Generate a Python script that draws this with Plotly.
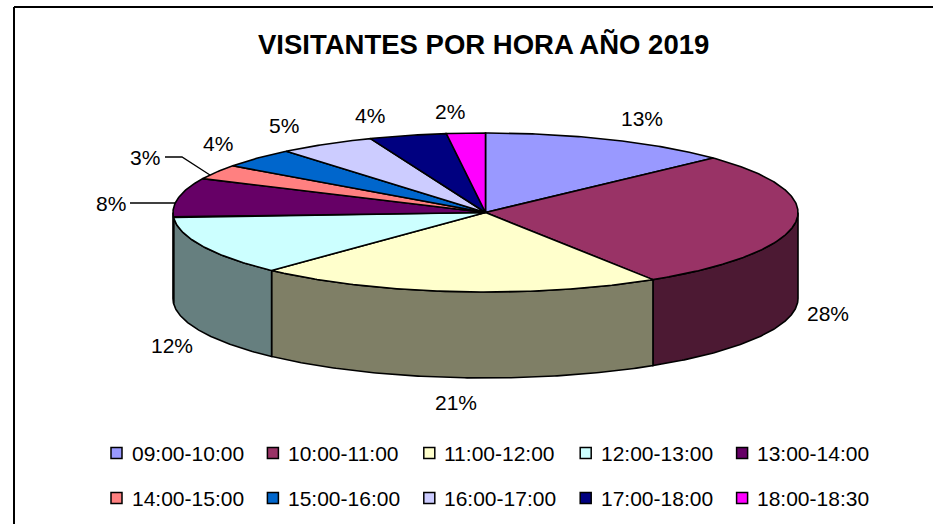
import numpy as np
import plotly.graph_objects as go

# ---------------- data ----------------
TITLE = "VISITANTES POR HORA AÑO 2019"
CATEGORIES = ["09:00-10:00", "10:00-11:00", "11:00-12:00", "12:00-13:00", "13:00-14:00",
              "14:00-15:00", "15:00-16:00", "16:00-17:00", "17:00-18:00", "18:00-18:30"]
PERCENTS = [13, 28, 21, 12, 8, 3, 4, 5, 4, 2]
COLORS = ["#9999FF", "#993366", "#FFFFCC", "#CCFFFF", "#660066",
          "#FF8080", "#0066CC", "#CCCCFF", "#000080", "#FF00FF"]

# ---------------- layout constants ----------------
W, H = 933, 524
CX, CY, RX, RY, DEPTH = 485.5, 212.5, 312.5, 79.5, 86
FONT = "Liberation Sans, Arial, sans-serif"
LABEL_XY = [(642, 118), (828, 313), (456, 402), (172, 345), (111, 203),
            (145, 157), (218, 143), (284, 125), (370, 115), (450, 111)]
LEADERS = {4: [(130, 203)], 5: [(165, 157), (182, 157)]}
LEG_X0, LEG_DX = 116.5, 156.4
LEG_Y = [453, 498]


def darken(c):
    c = c.lstrip("#")
    r, g, b = (int(c[i:i + 2], 16) for i in (0, 2, 4))
    return "#%02X%02X%02X" % (r // 2, g // 2, b // 2)


def ell(t, dy=0.0):
    r = np.radians(t)
    return CX + RX * np.sin(r), CY - RY * np.cos(r) + dy


total = float(sum(PERCENTS))
ends = np.cumsum(PERCENTS) / total * 360.0
starts = np.concatenate([[0.0], ends[:-1]])

fig = go.Figure()

# side walls (front half only)
for i, (a0, a1) in enumerate(zip(starts, ends)):
    lo, hi = max(a0, 90.0), min(a1, 270.0)
    if hi <= lo:
        continue
    t = np.linspace(lo, hi, max(3, int((hi - lo) * 2)))
    xt, yt = ell(t)
    xb, yb = ell(t[::-1], DEPTH)
    xs = np.concatenate([xt, xb, xt[:1]])
    ys = np.concatenate([yt, yb, yt[:1]])
    fig.add_trace(go.Scatter(x=xs, y=ys, mode="lines", fill="toself",
                             fillcolor=darken(COLORS[i]),
                             line=dict(color="black", width=1.6),
                             hoverinfo="skip", showlegend=False))

# top faces
for i, (a0, a1) in enumerate(zip(starts, ends)):
    t = np.linspace(a0, a1, max(3, int((a1 - a0) * 2)))
    xa, ya = ell(t)
    xs = np.concatenate([[CX], xa, [CX]])
    ys = np.concatenate([[CY], ya, [CY]])
    fig.add_trace(go.Scatter(x=xs, y=ys, mode="lines", fill="toself",
                             fillcolor=COLORS[i],
                             line=dict(color="black", width=1.6),
                             hoverinfo="skip", showlegend=False))

# leader lines: end on the ellipse edge
for i, pts in LEADERS.items():
    ly = pts[-1][1] if i == 4 else LABEL_XY[i][1] + 18
    c = np.clip((CY - ly) / RY, -1, 1)
    th = 360 - np.degrees(np.arccos(c))
    ex, ey = ell(th)
    xs = [p[0] for p in pts] + [float(ex)]
    ys = [p[1] for p in pts] + [float(ey)]
    fig.add_trace(go.Scatter(x=xs, y=ys, mode="lines",
                             line=dict(color="black", width=1.3),
                             hoverinfo="skip", showlegend=False))

# percentage labels
for i, p in enumerate(PERCENTS):
    fig.add_annotation(x=LABEL_XY[i][0], y=LABEL_XY[i][1], text=f"{p}%",
                       showarrow=False, xanchor="center", yanchor="middle",
                       font=dict(family=FONT, size=21, color="black"))

# legend
for i, (cat, col) in enumerate(zip(CATEGORIES, COLORS)):
    x = LEG_X0 + (i % 5) * LEG_DX
    y = LEG_Y[i // 5]
    fig.add_trace(go.Scatter(x=[x], y=[y], mode="markers",
                             marker=dict(symbol="square", size=11, color=col,
                                         line=dict(color="black", width=1.5)),
                             hoverinfo="skip", showlegend=False))
    fig.add_annotation(x=x + 13, y=y, text=cat, showarrow=False,
                       xanchor="left", yanchor="middle",
                       font=dict(family=FONT, size=21, color="black"))

# title
fig.add_annotation(x=483, y=44, text=f"<b>{TITLE}</b>", showarrow=False,
                   xanchor="center", yanchor="middle",
                   font=dict(family=FONT, size=27.5, color="black"))

# chart frame (top and left edges; right/bottom lie outside the view)
fig.add_shape(type="line", x0=14, y0=7, x1=W + 5, y1=7,
              line=dict(color="black", width=2))
fig.add_shape(type="line", x0=14, y0=7, x1=14, y1=H + 5,
              line=dict(color="black", width=2))

fig.update_layout(
    width=W, height=H, margin=dict(l=0, r=0, t=0, b=0),
    paper_bgcolor="white", plot_bgcolor="white",
    xaxis=dict(range=[0, W], visible=False, fixedrange=True),
    yaxis=dict(range=[H, 0], visible=False, fixedrange=True),
    showlegend=False,
)

fig.write_html("out.html", config={"displayModeBar": False},
               post_script="document.documentElement.style.overflow='hidden';"
                           "document.body.style.margin='0';"
                           "document.body.style.overflow='hidden';")
